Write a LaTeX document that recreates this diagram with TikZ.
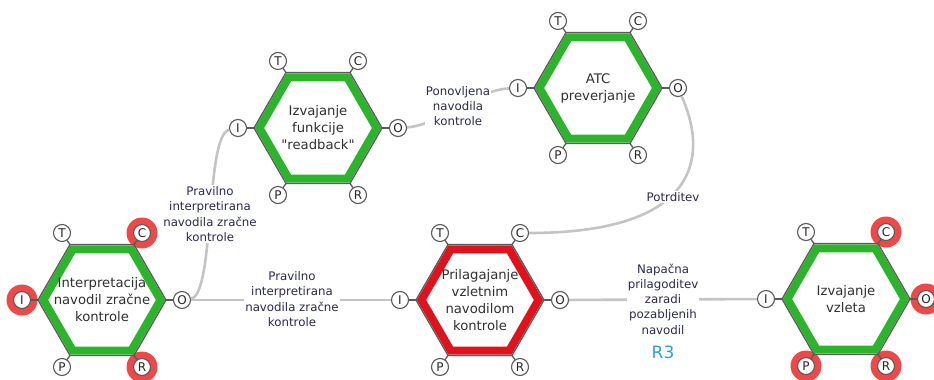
\documentclass[tikz,border=0pt]{standalone}
\usepackage{fontspec}
\setmainfont{DejaVu Sans}
\newfontfamily\plainquote{DejaVu Sans}
\definecolor{fgreen}{HTML}{2DB42D}
\definecolor{fred}{HTML}{E0121C}
\definecolor{halo}{HTML}{EF4848}
\definecolor{rimgray}{HTML}{5A5A5A}
\definecolor{linkgray}{HTML}{C4C4C4}
\definecolor{lbltext}{HTML}{2A2A50}
\definecolor{hextext}{HTML}{303030}
\definecolor{rthree}{HTML}{2AA3DC}
\pgfdeclarelayer{bg}
\pgfsetlayers{bg,main}
\tikzset{
  rim/.style={draw=rimgray, line width=1.3pt, line join=miter},
  band/.style={draw=#1, line width=8pt, line join=miter},
  port/.style={circle, draw=rimgray, line width=1.1pt, fill=white, minimum size=17pt, inner sep=0pt, font=\fontsize{12}{12}\selectfont, text=black!85},
  hextxt/.style={align=center, font=\fontsize{13.2}{17}\selectfont, text=hextext},
  link/.style={draw=linkgray, line width=2.6pt},
  lbl/.style={align=center, fill=white, inner sep=1pt, font=\fontsize{11.8}{15.3}\selectfont, text=lbltext},
  halofill/.style={fill=halo},
}
\newcommand\framhex[4]{%
 \begin{scope}[shift={#2}]
  \draw[band=#3] (0:58.5) -- (60:58.5) -- (120:58.5) -- (180:58.5) -- (240:58.5) -- (300:58.5) -- cycle;
  \draw[rim] (0:64) -- (60:64) -- (120:64) -- (180:64) -- (240:64) -- (300:64) -- cycle;
  \node[hextxt] (#1) at (0,0) {#4};
  \node[port] (#1-I) at (-80,0) {I};
  \node[port] (#1-O) at (80,0) {O};
  \node[port] (#1-T) at (-40,-67) {T};
  \node[port] (#1-C) at (40,-67) {C};
  \node[port] (#1-P) at (-40,67) {P};
  \node[port] (#1-R) at (40,67) {R};
  \draw[rim] (-64,0) -- (#1-I);
  \draw[rim] (64,0) -- (#1-O);
  \draw[rim] (-32,-55.4) -- (#1-T);
  \draw[rim] (32,-55.4) -- (#1-C);
  \draw[rim] (-32,55.4) -- (#1-P);
  \draw[rim] (32,55.4) -- (#1-R);
 \end{scope}}
\begin{document}
\begin{tikzpicture}[x=1pt,y=-1pt]
\begin{pgfonlayer}{bg}
\fill[white] (0,0) rectangle (934,380);
\end{pgfonlayer}
\useasboundingbox (0,0) rectangle (934,380);
\framhex{h1}{(102,300)}{fgreen}{Interpretacija\\navodil zračne\\kontrole}
\framhex{h2}{(318,128)}{fgreen}{Izvajanje\\funkcije\\{\plainquote"}readback{\plainquote"}}
\framhex{h3}{(598,88)}{fgreen}{ATC\\preverjanje}
\framhex{h4}{(480,300)}{fred}{Prilagajanje\\vzletnim\\navodilom\\kontrole}
\framhex{h5}{(846,299)}{fgreen}{Izvajanje\\vzleta}
\begin{pgfonlayer}{bg}
  \fill[halofill] (h1-C) circle (15.5);
  \fill[halofill] (h1-I) circle (15.5);
  \fill[halofill] (h1-R) circle (15.5);
  \fill[halofill] (h5-C) circle (15.5);
  \fill[halofill] (h5-O) circle (15.5);
  \fill[halofill] (h5-P) circle (15.5);
  \fill[halofill] (h5-R) circle (15.5);
\end{pgfonlayer}
\draw[link] (h1-O) .. controls (215,295) and (205,135) .. (h2-I);
\draw[link] (h1-O) -- (h4-I);
\draw[link] (h2-O) .. controls (440,125) and (475,90) .. (h3-I);
\draw[link] (h3-O) .. controls (710,160) and (695,233) .. (h4-C);
\draw[link] (h4-O) -- (h5-I);
\node[lbl] (l1) at (210,214) {Pravilno\\interpretirana\\navodila zračne\\kontrole};
\node[lbl] (l2) at (292,299) {Pravilno\\interpretirana\\navodila zračne\\kontrole};
\node[lbl] (l3) at (458,106) {Ponovljena\\navodila\\kontrole};
\node[lbl] (l4) at (673,197) {Potrditev};
\node[lbl] (l5) at (663,299) {Napačna\\prilagoditev\\zaradi\\pozabljenih\\navodil};
\node[text=rthree, font=\fontsize{17}{17}\selectfont] (r3) at (663,352) {R3};
\end{tikzpicture}
\end{document}
